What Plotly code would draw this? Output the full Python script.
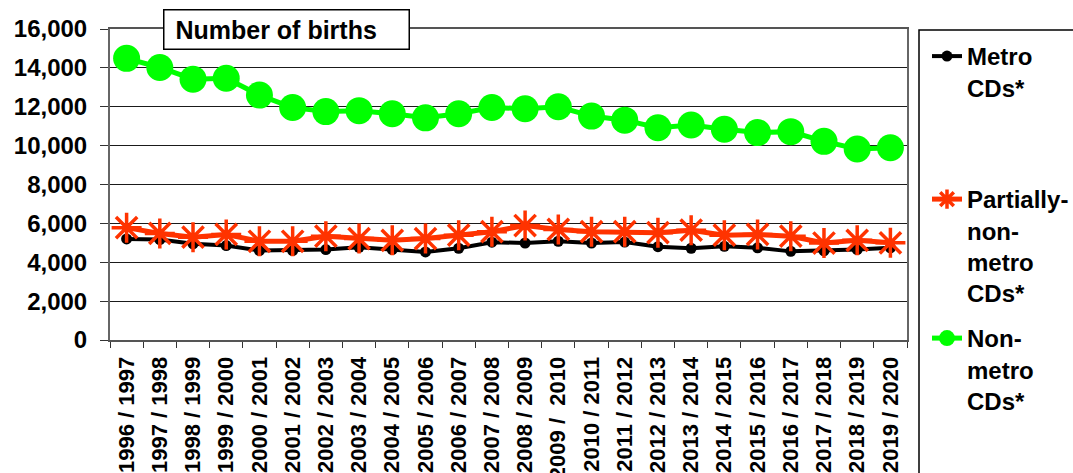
import plotly.graph_objects as go

# Birth years (financial-year style labels)
years = [
    "1996 / 1997", "1997 / 1998", "1998 / 1999", "1999 / 2000", "2000 / 2001",
    "2001 / 2002", "2002 / 2003", "2003 / 2004", "2004 / 2005", "2005 / 2006",
    "2006 / 2007", "2007 / 2008", "2008 / 2009", "2009 / \u00a02010", "2010 / 2011",
    "2011 / 2012", "2012 / 2013", "2013 / 2014", "2014 / 2015", "2015 / 2016",
    "2016 / 2017", "2017 / 2018", "2018 / 2019", "2019 / 2020",
]

# Number of births per census-division group
metro = [5200, 5170, 4950, 4860, 4600, 4600, 4650, 4770, 4650, 4530, 4720, 5030,
         4990, 5080, 4990, 5040, 4800, 4720, 4820, 4740, 4560, 4590, 4650, 4740]
partially_non_metro = [5780, 5480, 5290, 5430, 5080, 5080, 5340, 5220, 5130, 5220, 5390, 5570,
                       5890, 5690, 5570, 5570, 5520, 5650, 5390, 5430, 5340, 4990, 5130, 5000]
non_metro = [14490, 14020, 13420, 13470, 12600, 11960, 11750, 11800, 11640, 11430, 11640, 11960,
             11900, 12000, 11520, 11310, 10920, 11060, 10840, 10670, 10720, 10220, 9830, 9890]

y_ticks = list(range(0, 16001, 2000))

FONT = "Liberation Sans, Arial, sans-serif"
W, H = 1073, 473
L, R, T, B = 110, 166, 29, 133
PW, PH = W - L - R, H - T - B


def px_x(x):
    return (x - L) / PW


def px_y(y):
    return (H - B - y) / PH


fig = go.Figure()

fig.add_trace(go.Scatter(
    x=years, y=metro, mode="lines+markers", name="Metro<br>CDs*",
    line=dict(color="#000000", width=4),
    marker=dict(symbol="circle", size=11, color="#000000"),
    legend="legend", showlegend=True,
))
fig.add_trace(go.Scatter(
    x=years, y=partially_non_metro, mode="lines+markers",
    name="Partially-<br>non-<br>metro<br>CDs*",
    line=dict(color="#FF3300", width=5),
    marker=dict(symbol="asterisk-open", size=25, color="#FF3300",
                line=dict(color="#FF3300", width=3.5)),
    legend="legend2", showlegend=True,
))
fig.add_trace(go.Scatter(
    x=years, y=non_metro, mode="lines+markers", name="Non-<br>metro<br>CDs*",
    line=dict(color="#00FF00", width=5),
    marker=dict(symbol="circle", size=27, color="#00FF00"),
    legend="legend3", showlegend=True,
))

legend_common = dict(
    font=dict(family=FONT, size=24, color="#000000", weight="bold"),
    bgcolor="rgba(0,0,0,0)", borderwidth=0,
    xanchor="left", yanchor="top", valign="top",
    itemsizing="trace", visible=True,
)

fig.update_layout(
    width=W, height=H,
    margin=dict(l=L, r=R, t=T, b=B, autoexpand=False),
    paper_bgcolor="#FFFFFF", plot_bgcolor="#FFFFFF",
    font=dict(family=FONT, size=22, color="#000000"),
    showlegend=True,
    legend=dict(x=px_x(927), y=px_y(34), **legend_common),
    legend2=dict(x=px_x(927), y=px_y(177), **legend_common),
    legend3=dict(x=px_x(927), y=px_y(316), **legend_common),
    xaxis=dict(
        type="category", range=[-0.5, len(years) - 0.5], automargin=False,
        tickson="boundaries", ticks="outside", ticklen=6, tickwidth=1, tickcolor="#333333",
        tickangle=-90, showgrid=False, ticklabelstandoff=6,
        showline=True, linecolor="#555555", linewidth=2, mirror=True,
        tickfont=dict(family=FONT, size=22, color="#000000", weight="bold"),
    ),
    yaxis=dict(
        range=[0, 16000], tickvals=y_ticks, tickformat=",d", automargin=False,
        ticks="outside", ticklen=8, tickwidth=1, tickcolor="#333333",
        showgrid=True, gridcolor="#1A1A1A", gridwidth=1, ticklabelstandoff=8,
        showline=True, linecolor="#666666", linewidth=2, mirror=True,
        zeroline=False,
        tickfont=dict(family=FONT, size=24, color="#000000", weight="bold"),
    ),
)

# Frame around the legend entries
fig.add_shape(type="rect", xref="paper", yref="paper",
              x0=px_x(919), x1=px_x(1090), y0=px_y(30), y1=px_y(490),
              line=dict(color="#000000", width=1.5), fillcolor="rgba(0,0,0,0)", layer="above")

# Chart caption box
fig.add_annotation(
    text="<b>\u00a0Number of births</b>", xref="paper", yref="paper",
    x=px_x(163), y=px_y(9), xanchor="left", yanchor="top",
    showarrow=False, align="left",
    font=dict(family=FONT, size=25, color="#000000"),
    bgcolor="#FFFFFF", bordercolor="#000000", borderwidth=1.5, borderpad=4,
    width=236, height=30,
)

fig.write_html("out.html")
